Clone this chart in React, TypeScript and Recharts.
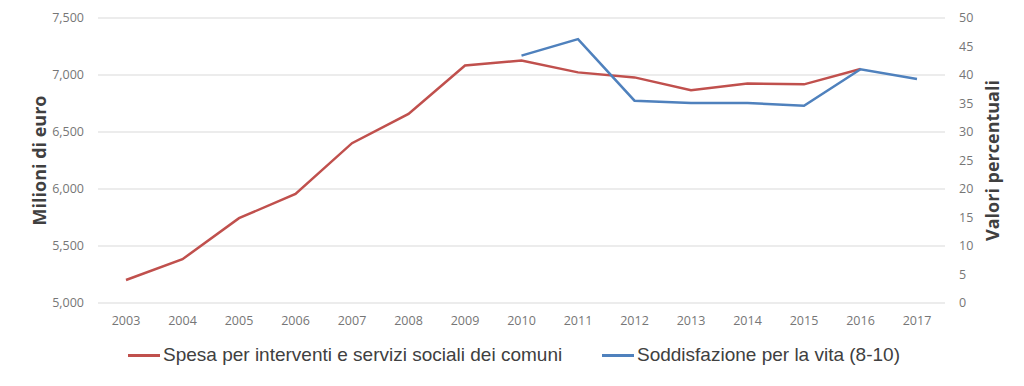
import { LineChart, Line, XAxis, YAxis, CartesianGrid } from 'recharts';

const years = ['2003', '2004', '2005', '2006', '2007', '2008', '2009', '2010', '2011', '2012', '2013', '2014', '2015', '2016', '2017'];
const spesa = [5202, 5384, 5744, 5957, 6402, 6659, 7083, 7127, 7023, 6979, 6867, 6926, 6918, 7052, null];
const soddisfazione = [null, null, null, null, null, null, null, 43.4, 46.3, 35.5, 35.1, 35.1, 34.6, 41.0, 39.3];
const leftTicks = [5000, 5500, 6000, 6500, 7000, 7500];
const rightTicks = [0, 5, 10, 15, 20, 25, 30, 35, 40, 45, 50];

const RED = '#c0504d';
const BLUE = '#4f81bd';

const data = years.map((y, i) => ({ year: y, spesa: spesa[i], soddisfazione: soddisfazione[i] }));

const tickStyle = { fontFamily: '"Open Sans", sans-serif', fontSize: 12.5, fill: '#767676' };
const titleStyle = { fontFamily: '"Open Sans", sans-serif', fontSize: 18, fontWeight: 700, fill: '#404040' };

function LegendItem({ color, label, left }: { color: string; label: string; left: number }) {
  return (
    <div style={{ position: 'absolute', left, top: 0, display: 'flex', alignItems: 'center' }}>
      <span style={{ display: 'inline-block', width: 32, height: 3, background: color, marginRight: 3 }} />
      <span>{label}</span>
    </div>
  );
}

export default function App() {
  return (
    <div style={{ margin: -8, width: 1024, height: 386, background: '#fff', position: 'relative' }}>
      <LineChart width={1024} height={386} data={data} margin={{ top: 18, right: 0, left: 0, bottom: 0 }}>
        <CartesianGrid vertical={false} stroke="#d9d9d9" strokeWidth={1} yAxisId="left" />
        <XAxis
          dataKey="year"
          axisLine={false}
          tickLine={false}
          tickSize={0}
          tickMargin={13}
          tick={tickStyle}
          interval={0}
          padding={{ left: 28, right: 28 }}
          height={83}
        />
        <YAxis
          yAxisId="left"
          domain={[5000, 7500]}
          ticks={leftTicks}
          width={98}
          axisLine={false}
          tickLine={false}
          tickSize={0}
          tickMargin={14}
          tick={tickStyle}
          tickFormatter={(v: number) => v.toLocaleString('en-US')}
          label={{ value: 'Milioni di euro', angle: -90, position: 'insideLeft', offset: 40, style: { ...titleStyle, textAnchor: 'middle' } }}
        />
        <YAxis
          yAxisId="right"
          orientation="right"
          domain={[0, 50]}
          ticks={rightTicks}
          width={79}
          axisLine={false}
          tickLine={false}
          tickSize={0}
          tickMargin={14}
          tick={tickStyle}
          label={{ value: 'Valori percentuali', angle: -90, position: 'insideRight', offset: 31, style: { ...titleStyle, textAnchor: 'middle' } }}
        />
        <Line yAxisId="left" type="linear" dataKey="spesa" stroke={RED} strokeWidth={2.5} dot={false} isAnimationActive={false} />
        <Line yAxisId="right" type="linear" dataKey="soddisfazione" stroke={BLUE} strokeWidth={2.5} dot={false} isAnimationActive={false} />
      </LineChart>
      <div style={{ position: 'absolute', left: 0, top: 344, width: 1024, height: 24, fontFamily: '"Liberation Sans Narrow", "Liberation Sans", sans-serif', fontSize: 19, color: '#404040' }}>
        <LegendItem color={RED} label="Spesa per interventi e servizi sociali dei comuni" left={128} />
        <LegendItem color={BLUE} label="Soddisfazione per la vita (8-10)" left={602} />
      </div>
    </div>
  );
}
